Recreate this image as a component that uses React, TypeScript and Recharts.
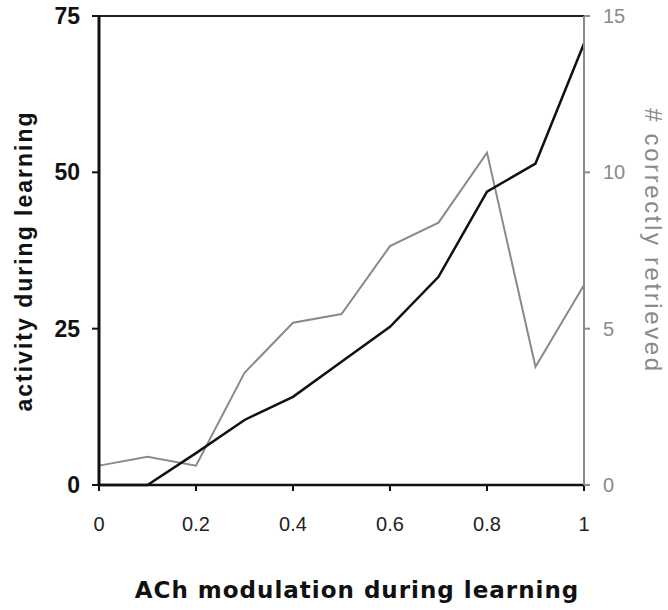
import React from "react";
import { LineChart, Line, XAxis, YAxis, ReferenceLine } from "recharts";

// ACh modulation levels (x)
const achLevels = [0, 0.1, 0.2, 0.3, 0.4, 0.5, 0.6, 0.7, 0.8, 0.9, 1];
// left axis: activity during learning
const activity = [0, 0, 5.1, 10.4, 14.1, 19.7, 25.3, 33.3, 46.9, 51.4, 70.6];
// right axis: # correctly retrieved
const retrieved = [0.62, 0.9, 0.62, 3.59, 5.19, 5.47, 7.64, 8.39, 10.63, 3.78, 6.4];

const xTicks = [0, 0.2, 0.4, 0.6, 0.8, 1];
const leftTicks = [0, 25, 50, 75];
const rightTicks = [0, 5, 10, 15];

const data = achLevels.map((x, i) => ({ x, act: activity[i], ret: retrieved[i] }));

const FONT = "'Liberation Sans', Arial, sans-serif";
const GRAY = "#8a8a8a";

/* tick renderers */
// eslint-disable-next-line @typescript-eslint/no-explicit-any
function LeftTick({ x, y, payload }: any) {
  return (
    <text x={x} y={y} dy={8} textAnchor="end" fontFamily={FONT} fontWeight="bold" fontSize={23} fill="#111">
      {payload.value}
    </text>
  );
}

// eslint-disable-next-line @typescript-eslint/no-explicit-any
function RightTick({ x, y, payload }: any) {
  return (
    <text x={x} y={y} dy={7} textAnchor="start" fontFamily={FONT} fontSize={20} fill={GRAY}>
      {payload.value}
    </text>
  );
}

// eslint-disable-next-line @typescript-eslint/no-explicit-any
function XTick({ x, y, payload }: any) {
  return (
    <text x={x} y={y} dy={20} textAnchor="middle" fontFamily={FONT} fontSize={20} fill="#222">
      {String(payload.value)}
    </text>
  );
}

export default function App() {
  return (
    <div style={{ position: "absolute", left: 0, top: 0, background: "#fff" }}>
      <LineChart width={668} height={610} data={data} margin={{ top: 16, right: 0, bottom: 0, left: 0 }}>
        <XAxis
          dataKey="x"
          type="number"
          domain={[0, 1]}
          ticks={xTicks}
          height={125}
          axisLine={{ stroke: "#111", strokeWidth: 2.5 }}
          tickLine={{ stroke: "#111", strokeWidth: 2 }}
          tickSize={6}
          tickMargin={20}
          tick={<XTick />}
          label={{
            content: () => (
              <text
                x={357}
                y={598}
                textAnchor="middle"
                fontFamily="'DejaVu Sans', Verdana, sans-serif"
                fontWeight="bold"
                fontSize={23}
                letterSpacing={1}
                fill="#111"
              >
                ACh modulation during learning
              </text>
            ),
          }}
        />
        <YAxis
          yAxisId="left"
          orientation="left"
          domain={[0, 75]}
          ticks={leftTicks}
          width={99}
          axisLine={{ stroke: "#111", strokeWidth: 3 }}
          tickLine={{ stroke: "#111", strokeWidth: 2 }}
          tickSize={7}
          tickMargin={12}
          tick={<LeftTick />}
          label={{
            content: () => (
              <text
                x={32}
                y={261}
                transform="rotate(-90 32 261)"
                textAnchor="middle"
                fontFamily={FONT}
                fontWeight="bold"
                fontSize={23}
                letterSpacing={2}
                fill="#111"
              >
                activity during learning
              </text>
            ),
          }}
        />
        <YAxis
          yAxisId="right"
          orientation="right"
          domain={[0, 15]}
          ticks={rightTicks}
          width={84}
          axisLine={{ stroke: GRAY, strokeWidth: 2 }}
          tickLine={{ stroke: GRAY, strokeWidth: 2 }}
          tickSize={6}
          tickMargin={13}
          tick={<RightTick />}
          label={{
            content: () => (
              <text
                x={645}
                y={241}
                transform="rotate(90 645 241)"
                textAnchor="middle"
                fontFamily={FONT}
                fontSize={24}
                letterSpacing={2.6}
                fill={GRAY}
              >
                # correctly retrieved
              </text>
            ),
          }}
        />
        <ReferenceLine yAxisId="left" y={75} stroke="#222" strokeWidth={2} />
        <Line
          yAxisId="right"
          type="linear"
          dataKey="ret"
          stroke={GRAY}
          strokeWidth={2}
          dot={false}
          isAnimationActive={false}
        />
        <Line
          yAxisId="left"
          type="linear"
          dataKey="act"
          stroke="#111"
          strokeWidth={2.5}
          dot={false}
          isAnimationActive={false}
        />
      </LineChart>
    </div>
  );
}
